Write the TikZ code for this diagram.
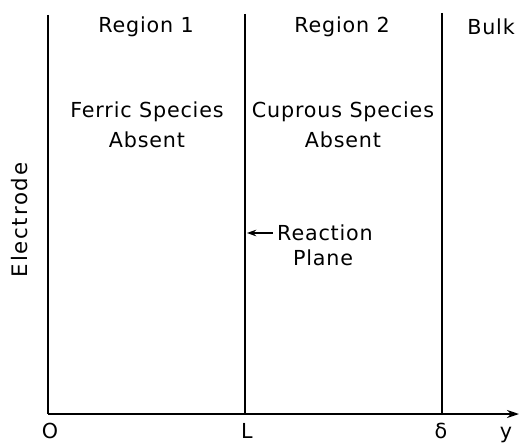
\documentclass[tikz,border=0pt]{standalone}
\usepackage{fontspec}
\setmainfont[LetterSpace=4]{DejaVu Sans}
\usetikzlibrary{arrows.meta}
\begin{document}
\begin{tikzpicture}[x=0.75pt,y=-0.75pt,
  line/.style={line width=1.6pt},
  lbl/.style={font=\fontsize{15.5}{18}\selectfont, inner sep=0pt, align=center},
  axl/.style={lbl, anchor=base}]
\useasboundingbox (0,0) rectangle (520,442);
% axes and boundaries
\coordinate (o) at (48,414);
\coordinate (top0) at (48,15);
\coordinate (lb) at (245,414);
\coordinate (lt) at (245,14);
\coordinate (db) at (442,414);
\coordinate (dt) at (442,13);
\coordinate (yend) at (519,414);
\draw[line] (top0) -- (o);
\draw[line] (lt) -- (lb);
\draw[line] (dt) -- (db);
\draw[line, -{Stealth[length=9pt,width=6pt]}] (o) -- (yend);
% axis labels
\node[axl] (lO) at (50,438) {O};
\node[axl] (lL) at (247,438) {L};
\node[axl] (ld) at (441,438) {δ};
\node[axl] (ly) at (506,438) {y};
% region titles
\node[lbl] (r1) at (146,27) {Region 1};
\node[lbl] (r2) at (342,27) {Region 2};
\node[lbl] (bulk) at (491,27) {Bulk};
\node[lbl] (fs) at (147,112) {Ferric Species};
\node[lbl] (fa) at (147,140) {Absent};
\node[lbl] (cs) at (343,112) {Cuprous Species};
\node[lbl] (ca) at (343,140) {Absent};
\node[lbl, rotate=90, font=\fontsize{16}{18}\addfontfeatures{LetterSpace=8}\selectfont] (el) at (20,220) {Electrode};
% reaction plane
\node[lbl] (rp1) at (325,233) {Reaction};
\node[lbl] (rp2) at (323,258) {Plane};
\coordinate (rpt) at (247,233);
\draw[line width=1pt, -{Stealth[length=7pt,width=5pt]}] (rp1.west) ++(-3pt,0) -- (rpt);
\end{tikzpicture}
\end{document}
